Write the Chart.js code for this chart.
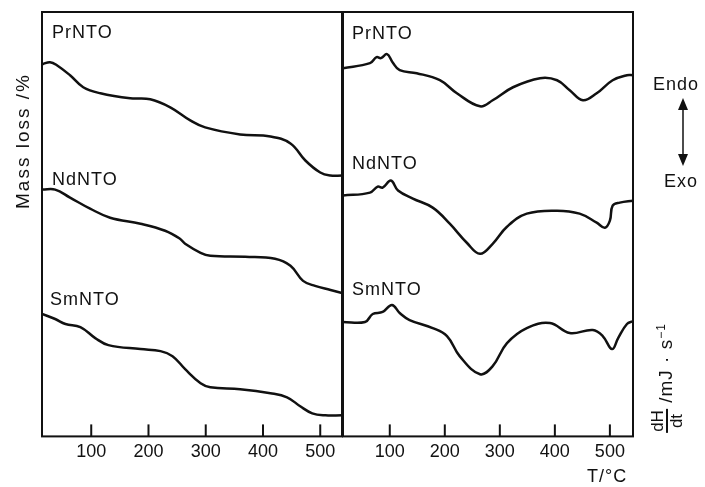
<!DOCTYPE html>
<html>
<head>
<meta charset="utf-8">
<script src="https://cdn.jsdelivr.net/npm/chart.js@4"></script>
<style>
  body { margin: 0; background: #fff; width: 705px; height: 487px; position: relative; overflow: hidden;
         font-family: "Liberation Sans", "DejaVu Sans", sans-serif; color: #111; }
  canvas { position: absolute; top: 0; }
  .t { position: absolute; font-size: 18px; letter-spacing: 1px; white-space: nowrap; line-height: 1; }
  .rot { position: absolute; transform: translate(-50%, -50%) rotate(-90deg); white-space: nowrap;
         font-size: 19px; letter-spacing: 2px; line-height: 1; }
  .frac { display: inline-flex; flex-direction: column; align-items: center; vertical-align: middle;
          font-size: 17px; letter-spacing: 0; }
  .frac span:first-child { border-bottom: 2px solid #111; padding: 0 1px; }
</style>
</head>
<body>
<canvas id="tg" width="343" height="487" style="left:0"></canvas>
<canvas id="dsc" width="405" height="487" style="left:300px"></canvas>

<div class="t" style="left:52px;top:23px">PrNTO</div>
<div class="t" style="left:52px;top:170px">NdNTO</div>
<div class="t" style="left:50px;top:290px">SmNTO</div>
<div class="t" style="left:352px;top:24px">PrNTO</div>
<div class="t" style="left:352px;top:154px">NdNTO</div>
<div class="t" style="left:352px;top:280px">SmNTO</div>
<div class="t" style="left:653px;top:75px">Endo</div>
<div class="t" style="left:664px;top:172px">Exo</div>
<div class="t" style="left:587px;top:467px">T/°C</div>
<div class="rot" style="left:22px;top:141px">Mass loss /%</div>
<div class="rot" style="left:667px;top:378px;letter-spacing:1px"><span class="frac"><span>dH</span><span>dt</span></span> /mJ · s<sup style="font-size:12px">−1</sup></div>
<svg style="position:absolute;left:673px;top:96px" width="20" height="72">
  <line x1="10" y1="10" x2="10" y2="62" stroke="#111" stroke-width="1.5"/>
  <polygon points="10,2 5,14 15,14" fill="#111"/>
  <polygon points="10,70 5,58 15,58" fill="#111"/>
</svg>

<script>
// tick labels shared by both panels
const xTicks = [100, 200, 300, 400, 500];

// TG curves (temperature / offset signal)
const prTgT = [15, 28, 40, 63, 86, 116, 168, 203, 238, 273, 299, 360, 413, 448, 474, 500, 518, 538];
const prTgV = [371, 373, 370, 360, 348, 342, 337, 336, 328, 315, 308, 301, 299, 292, 275, 263, 260, 260];
const ndTgT = [15, 37, 63, 98, 133, 186, 229, 255, 264, 291, 308, 369, 421, 448, 470, 491, 518, 538];
const ndTgV = [246, 246, 238, 227, 218, 212, 205, 197, 192, 183, 180, 179, 177, 170, 155, 150, 146, 143];
const smTgT = [14, 37, 55, 81, 107, 130, 186, 221, 242, 264, 291, 308, 360, 413, 442, 465, 486, 509, 538];
const smTgV = [122, 117, 112, 109, 98, 91, 87, 85, 80, 67, 53, 49, 47, 43, 39, 30, 23, 21, 21];

// DSC curves
const prDscT = [15, 64, 76, 84, 95, 105, 118, 149, 191, 222, 264, 287, 324, 373, 404, 427, 451, 476, 505, 531, 542];
const prDscV = [367, 372, 378, 377, 381, 373, 365, 362, 355, 342, 329, 335, 348, 357, 355, 345, 335, 342, 355, 360, 360];
const ndDscT = [15, 64, 78, 87, 102, 115, 142, 178, 209, 240, 264, 287, 313, 349, 404, 445, 476, 491, 500, 505, 518, 542];
const ndDscV = [240, 243, 249, 248, 255, 245, 237, 228, 212, 193, 182, 192, 209, 222, 225, 222, 213, 208, 215, 230, 233, 235];
const smDscT = [15, 55, 69, 87, 104, 118, 136, 178, 204, 227, 264, 287, 313, 349, 391, 427, 469, 487, 504, 515, 531, 542];
const smDscV = [114, 114, 122, 124, 131, 123, 116, 108, 100, 80, 62, 70, 93, 108, 113, 103, 106, 100, 87, 98, 112, 115];

const pts = (t, v) => t.map((x, i) => ({ x, y: v[i] }));
const line = (t, v) => ({ data: pts(t, v), borderColor: '#111', borderWidth: 2.5, pointRadius: 0, tension: 0.4, fill: false });

const framePlugin = {
  id: 'frame',
  afterDraw(chart) {
    const { ctx, chartArea: a, scales: { x } } = chart;
    ctx.save();
    ctx.strokeStyle = '#111';
    ctx.lineWidth = 2;
    ctx.strokeRect(a.left, a.top, a.right - a.left, a.bottom - a.top);
    xTicks.forEach(v => {
      const px = x.getPixelForValue(v);
      ctx.beginPath();
      ctx.moveTo(px, a.bottom);
      ctx.lineTo(px, a.bottom - 12);
      ctx.stroke();
    });
    ctx.restore();
  }
};

function makeChart(id, datasets, xmin, xmax, padding) {
  return new Chart(document.getElementById(id), {
    type: 'line',
    data: { datasets },
    options: {
      responsive: false,
      animation: false,
      layout: { padding },
      plugins: { legend: { display: false }, tooltip: { enabled: false } },
      scales: {
        x: {
          type: 'linear', min: xmin, max: xmax,
          afterBuildTicks: s => { s.ticks = xTicks.map(v => ({ value: v })); },
          grid: { display: false, drawTicks: false },
          border: { display: false },
          ticks: { color: '#111', font: { family: 'Liberation Sans', size: 18 }, padding: 5, maxRotation: 0 }
        },
        y: { display: false, min: 0, max: 423 }
      }
    },
    plugins: [framePlugin]
  });
}

makeChart('tg', [line(prTgT, prTgV), line(ndTgT, ndTgV), line(smTgT, smTgV)], 14, 538,
  { left: 42, right: 1, top: 12, bottom: 19 });
makeChart('dsc', [line(prDscT, prDscV), line(ndDscT, ndDscV), line(smDscT, smDscV)], 15, 542,
  { left: 43, right: 72, top: 12, bottom: 19 });
</script>
</body>
</html>
